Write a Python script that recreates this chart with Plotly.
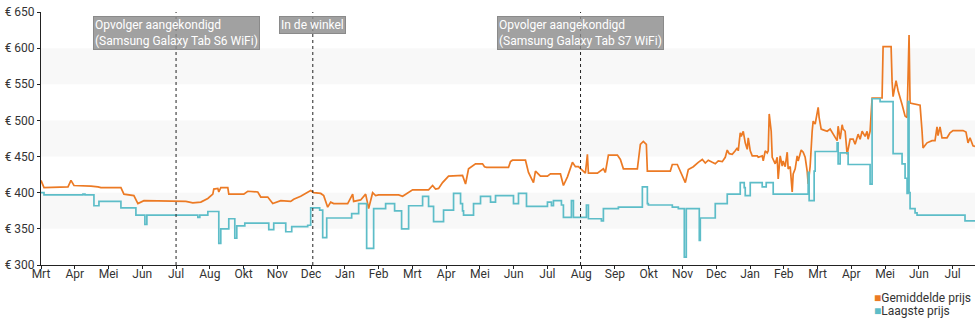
import plotly.graph_objects as go

# Time axis: months since the start of March (0 = Mrt, 1 = Apr, ...)
month_labels = ["Mrt", "Apr", "Mei", "Jun", "Jul", "Aug", "Okt", "Nov", "Dec", "Jan",
                "Feb", "Mrt", "Apr", "Mei", "Jun", "Jul", "Aug", "Sep", "Okt", "Nov",
                "Dec", "Jan", "Feb", "Mrt", "Apr", "Mei", "Jun", "Jul"]

# Price axis ticks
price_ticks = [300, 350, 400, 450, 500, 550, 600, 650]
price_labels = ["€ 300", "€ 350", "€ 400", "€ 450", "€ 500", "€ 550", "€ 600", "€ 650"]

# Average price (Gemiddelde prijs)
t_avg = [0.0, 0.089, 0.799, 0.888, 0.976, 1.391, 1.479, 1.686, 1.775, 2.367, 2.456, 2.751,
         2.870, 3.047, 3.550, 3.935, 4.290, 4.497, 4.645, 4.734, 4.941, 5.089, 5.118, 5.237,
         5.266, 5.325, 5.533, 5.562, 6.006, 6.124, 6.420, 6.509, 6.716, 6.864, 7.101, 7.396,
         7.485, 7.692, 7.988, 8.077, 8.284, 8.373, 8.491, 8.580, 8.669, 9.083, 9.231, 9.260,
         9.467, 9.615, 9.675, 9.704, 9.822, 9.911, 10.000, 10.592, 10.710, 10.858, 11.006,
         11.479, 11.598, 11.686, 11.775, 11.893, 12.071, 12.485, 12.574, 12.663, 12.870,
         13.077, 13.136, 13.195, 13.846, 13.905, 13.964, 14.349, 14.438, 14.586, 14.645,
         14.793, 15.000, 15.089, 15.385, 15.473, 15.592, 15.740, 15.828, 15.917, 16.036,
         16.124, 16.183, 16.213, 16.479, 16.568, 16.657, 16.716, 16.805, 17.071, 17.160,
         17.249, 17.663, 17.751, 17.840, 17.929, 17.959, 18.639, 18.698, 18.846, 18.935,
         19.083, 19.172, 19.320, 19.467, 19.586, 19.675, 19.763, 19.882, 19.970, 20.059,
         20.178, 20.266, 20.325, 20.385, 20.473, 20.562, 20.621, 20.651, 20.710, 20.740,
         20.799, 20.858, 20.917, 20.947, 21.006, 21.065, 21.213, 21.243, 21.361, 21.391,
         21.450, 21.509, 21.538, 21.568, 21.627, 21.657, 21.746, 21.805, 21.834, 21.893,
         21.953, 21.982, 22.041, 22.101, 22.130, 22.189, 22.249, 22.278, 22.337, 22.396,
         22.426, 22.515, 22.574, 22.633, 22.692, 22.722, 22.781, 22.840, 22.870, 22.929,
         23.018, 23.047, 23.107, 23.166, 23.284, 23.373, 23.432, 23.462, 23.580, 23.609,
         23.669, 23.728, 23.757, 23.817, 23.876, 23.964, 24.053, 24.112, 24.201, 24.260,
         24.320, 24.408, 24.467, 24.497, 24.556, 24.615, 24.911, 24.941, 25.178, 25.207,
         25.237, 25.325, 25.385, 25.503, 25.592, 25.651, 25.710, 25.740, 25.888, 26.036,
         26.095, 26.124, 26.243, 26.391, 26.479, 26.538, 26.568, 26.627, 26.686, 26.834,
         26.923, 27.012, 27.308, 27.396, 27.456, 27.515, 27.604, 27.663]
avg_price = [417, 407, 408, 417, 410, 410, 409, 408, 407, 407, 398, 396,
             385, 389, 389, 388, 388, 386, 386, 387, 392, 398, 405, 406,
             401, 407, 407, 398, 398, 402, 401, 394, 394, 385, 389, 388,
             391, 395, 403, 400, 399, 396, 380, 387, 385, 385, 398, 388,
             390, 398, 385, 378, 400, 396, 397, 397, 395, 400, 404,
             404, 410, 405, 406, 414, 423, 424, 412, 433, 440,
             440, 436, 435, 435, 443, 445, 445, 428, 414, 430,
             423, 423, 426, 426, 410, 422, 442, 436, 436, 430,
             427, 453, 427, 427, 430, 433, 428, 452, 452, 446,
             433, 433, 467, 471, 467, 430, 430, 439, 439, 430,
             414, 432, 436, 442, 446, 441, 445, 442, 440, 444,
             443, 449, 459, 454, 453, 458, 462, 458, 483, 478,
             485, 469, 460, 476, 458, 451, 451, 449, 451, 444,
             458, 455, 458, 509, 485, 449, 440, 449, 419, 451,
             437, 444, 436, 456, 433, 436, 401, 426, 433, 451,
             444, 459, 456, 449, 430, 412, 437, 485, 499, 495,
             518, 504, 488, 487, 485, 488, 483, 482, 472, 492,
             474, 494, 488, 485, 453, 474, 474, 467, 481, 474,
             485, 478, 485, 474, 485, 531, 531, 602, 602, 554,
             533, 555, 541, 522, 506, 504, 618, 524, 522, 521,
             485, 462, 469, 472, 472, 491, 479, 491, 476, 476,
             483, 486, 486, 484, 469, 476, 465, 464]

# Lowest price (Laagste prijs), value holds until the next change
t_low = [0.0, 0.089, 1.243, 1.302, 1.568, 1.716, 2.367, 2.811, 3.077, 3.136, 4.645, 4.704,
         4.941, 5.266, 5.325, 5.562, 5.740, 5.799, 6.036, 6.746, 6.893, 7.249, 7.426, 7.899,
         7.988, 8.254, 8.343, 8.462, 9.201, 9.408, 9.645, 9.852, 10.207, 10.473, 10.680,
         10.888, 11.302, 11.479, 11.627, 11.923, 12.219, 12.426, 12.485, 12.515, 12.811,
         13.018, 13.314, 13.462, 13.994, 14.142, 14.379, 15.000, 15.118, 15.178, 15.414,
         15.473, 15.710, 15.769, 16.154, 16.213, 16.598, 16.657, 17.101, 17.811, 17.959,
         17.988, 18.698, 18.876, 19.053, 19.112, 19.497, 19.527, 19.970, 20.325, 20.710,
         20.828, 20.858, 21.006, 21.361, 21.479, 21.686, 22.722, 22.751, 22.899, 22.929,
         23.580, 23.609, 23.669, 23.905, 24.556, 24.615, 24.852, 25.237, 25.503, 25.592,
         25.651, 25.680, 25.710, 25.740, 25.888, 25.947, 27.367, 27.663]
low_price = [400, 397, 398, 397, 382, 388, 379, 369, 356, 369, 366, 369,
             374, 330, 350, 364, 337, 354, 358, 349, 358, 346, 353, 355,
             379, 376, 338, 365, 371, 385, 323, 378, 385, 375, 350,
             382, 395, 381, 360, 376, 399, 385, 375, 369, 385,
             395, 387, 396, 385, 399, 381, 387, 382, 389, 383,
             366, 389, 366, 383, 364, 361, 378, 380, 408, 385,
             383, 380, 378, 311, 378, 334, 365, 385, 398, 414,
             407, 396, 414, 408, 414, 398, 428, 389, 430, 457,
             469, 440, 455, 439, 412, 530, 526, 454, 440, 420,
             399, 526, 400, 378, 372, 369, 361, 361]

# Product events
event_t = [4.0, 8.05, 15.98]
event_text = ["Opvolger aangekondigd<br>(Samsung Galaxy Tab S6 WiFi)",
              "In de winkel",
              "Opvolger aangekondigd<br>(Samsung Galaxy Tab S7 WiFi)"]

# Shaded price bands
bands = [(350, 400), (450, 500), (550, 600)]

series_names = ["Gemiddelde prijs", "Laagste prijs"]
series_colors = ["#ec7a24", "#5dbdc8"]
font_family = "Roboto, 'Open Sans', sans-serif"

fig = go.Figure()
fig.add_trace(go.Scatter(x=t_avg, y=avg_price, mode="lines", name=series_names[0],
                         line=dict(color=series_colors[0], width=1.7), showlegend=False))
fig.add_trace(go.Scatter(x=t_low, y=low_price, mode="lines", name=series_names[1],
                         line=dict(color=series_colors[1], width=1.7, shape="hv"),
                         showlegend=False))

for lo, hi in bands:
    fig.add_shape(type="rect", xref="paper", x0=0, x1=1, yref="y", y0=lo, y1=hi,
                  fillcolor="#f8f8f8", line=dict(width=0), layer="below")

for t, txt in zip(event_t, event_text):
    fig.add_shape(type="line", xref="x", x0=t, x1=t, yref="paper", y0=0, y1=1,
                  line=dict(color="#222222", width=1, dash="dot"), layer="above")
    fig.add_annotation(x=t, xref="x", y=0.985, yref="paper", yanchor="top",
                       xanchor="center", text=txt, showarrow=False, align="left",
                       font=dict(family=font_family, size=12, color="#ffffff"),
                       bgcolor="rgba(140,140,140,0.82)", bordercolor="#8a8a8a",
                       borderwidth=1, borderpad=1)

# Legend drawn as coloured squares with labels
for i, (name, col) in enumerate(zip(series_names, series_colors)):
    fig.add_annotation(x=0.89, xref="paper", y=-0.13 - i * 0.052, yref="paper",
                       xanchor="left", yanchor="middle", showarrow=False, align="left",
                       text=f'<span style="color:{col}">■</span>{name}',
                       font=dict(family=font_family, size=12, color="#333333"))

fig.update_xaxes(range=[0, 27.663], tickvals=list(range(len(month_labels))),
                 ticktext=month_labels, showgrid=False, zeroline=False,
                 showline=True, linecolor="#222222", linewidth=1,
                 ticks="outside", ticklen=3, tickcolor="#222222",
                 ticklabelstandoff=-5,
                 tickfont=dict(family=font_family, size=12, color="#333333"))
fig.update_yaxes(range=[300, 650], tickvals=price_ticks, ticktext=price_labels,
                 showgrid=False, zeroline=False, showline=True, linecolor="#222222",
                 linewidth=1, ticks="outside", ticklen=3, tickcolor="#222222",
                 tickfont=dict(family=font_family, size=12, color="#333333"))

fig.update_layout(width=980, height=325, margin=dict(l=40, r=5, t=10, b=60),
                  plot_bgcolor="#ffffff", paper_bgcolor="#ffffff",
                  font=dict(family=font_family), showlegend=False)

fig.write_html("out.html")
